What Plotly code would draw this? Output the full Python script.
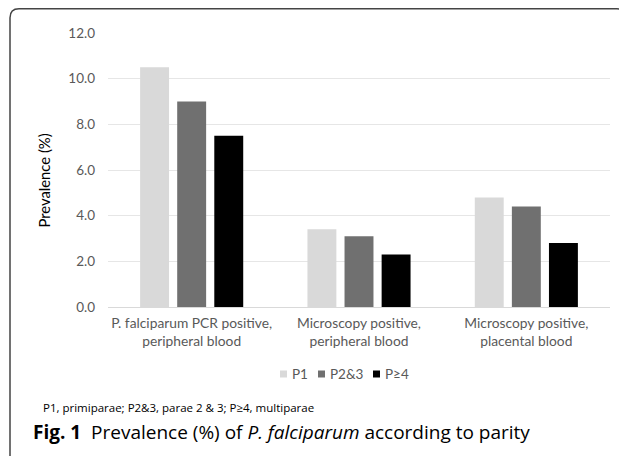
import plotly.graph_objects as go

categories = ["P. falciparum PCR positive,<br>peripheral blood",
              "Microscopy positive,<br>peripheral blood",
              "Microscopy positive,<br>placental blood"]
series_names = ["P1", "P2&3", "P≥4"]
p1_values = [10.5, 3.4, 4.8]
p23_values = [9.0, 3.1, 4.4]
p4_values = [7.5, 2.3, 2.8]
y_ticks = [0, 2, 4, 6, 8, 10, 12]
y_tick_labels = ["0.0", "2.0", "4.0", "6.0", "8.0", "10.0", "12.0"]

colors = ["#d9d9d9", "#707070", "#000000"]
OFF = 8  # page body margin
W, H = 627 - OFF, 456 - OFF
L, R, T, B = 100, 17, 25, 149
pw, ph = W - L - R, H - T - B

def px(x):  # reference screen pixel -> paper
    return (x - OFF - L) / pw

def py(y):
    return (H - B - (y - OFF)) / ph

fig = go.Figure()
for name, vals, c in zip(series_names, [p1_values, p23_values, p4_values], colors):
    fig.add_trace(go.Bar(x=categories, y=vals, name=name, marker=dict(color=c, line=dict(width=0))))

chart_font = "Lato, Open Sans, sans-serif"
note_font = "Open Sans, sans-serif"
fig.update_layout(
    width=W, height=H,
    margin=dict(l=L, r=R, t=T, b=B, autoexpand=False),
    paper_bgcolor="white", plot_bgcolor="white",
    barmode="group", bargap=0.335, bargroupgap=0.22,
    font=dict(family=chart_font, color="#595959"),
    showlegend=False,
    xaxis=dict(showgrid=False, showline=True, linecolor="#d9d9d9", linewidth=1,
               tickfont=dict(size=13.8, color="#595959"), ticks="", ticklabelstandoff=3),
    yaxis=dict(range=[0, 12], tickvals=y_ticks, ticktext=y_tick_labels,
               showgrid=True, gridcolor="#e6e6e6", gridwidth=1, zeroline=False,
               showline=False, tickfont=dict(size=13.5, color="#595959"), ticks="",
               ticklabelstandoff=12),
)

# y-axis title
fig.add_annotation(text="Prevalence (%)", xref="paper", yref="paper", x=px(43.5), y=py(181),
                   xanchor="center", yanchor="middle", textangle=-90, showarrow=False,
                   font=dict(size=14.8, color="#000000", family=chart_font))

# custom compact legend
legend_sq_x = [280, 318, 373]
for name, c, sx in zip(series_names, colors, legend_sq_x):
    fig.add_shape(type="rect", xref="paper", yref="paper",
                  x0=px(sx), x1=px(sx + 7), y0=py(377.5), y1=py(370.5),
                  line=dict(width=0), fillcolor=c)
    fig.add_annotation(text=name, xref="paper", yref="paper", x=px(sx + 10), y=py(374),
                       xanchor="left", yanchor="middle", showarrow=False,
                       font=dict(size=13.5, color="#595959", family=chart_font))

# figure border (rounded frame)
x0, x1, y0, y1, r = px(10), px(626), py(8.8), py(475), 9
rx, ry = r / pw, r / ph
path = (f"M {x0},{y1} L {x0},{y0 - ry} Q {x0},{y0} {x0 + rx},{y0} "
        f"L {x1 - rx},{y0} Q {x1},{y0} {x1},{y0 - ry} L {x1},{y1}")
fig.add_shape(type="path", path=path, xref="paper", yref="paper",
              line=dict(color="#444444", width=1.5))

fig.add_annotation(text="P1, primiparae; P2&3, parae 2 & 3; P≥4, multiparae",
                   xref="paper", yref="paper", x=px(41), y=py(407), xanchor="left", yanchor="middle",
                   showarrow=False, font=dict(size=11.5, color="#000000", family=note_font))
fig.add_annotation(text="<b>Fig. 1</b>  Prevalence (%) of <i>P. falciparum</i> according to parity",
                   xref="paper", yref="paper", x=px(31), y=py(432), xanchor="left", yanchor="middle",
                   showarrow=False, font=dict(size=19, color="#000000", family=note_font))

fig.write_html("out.html")
